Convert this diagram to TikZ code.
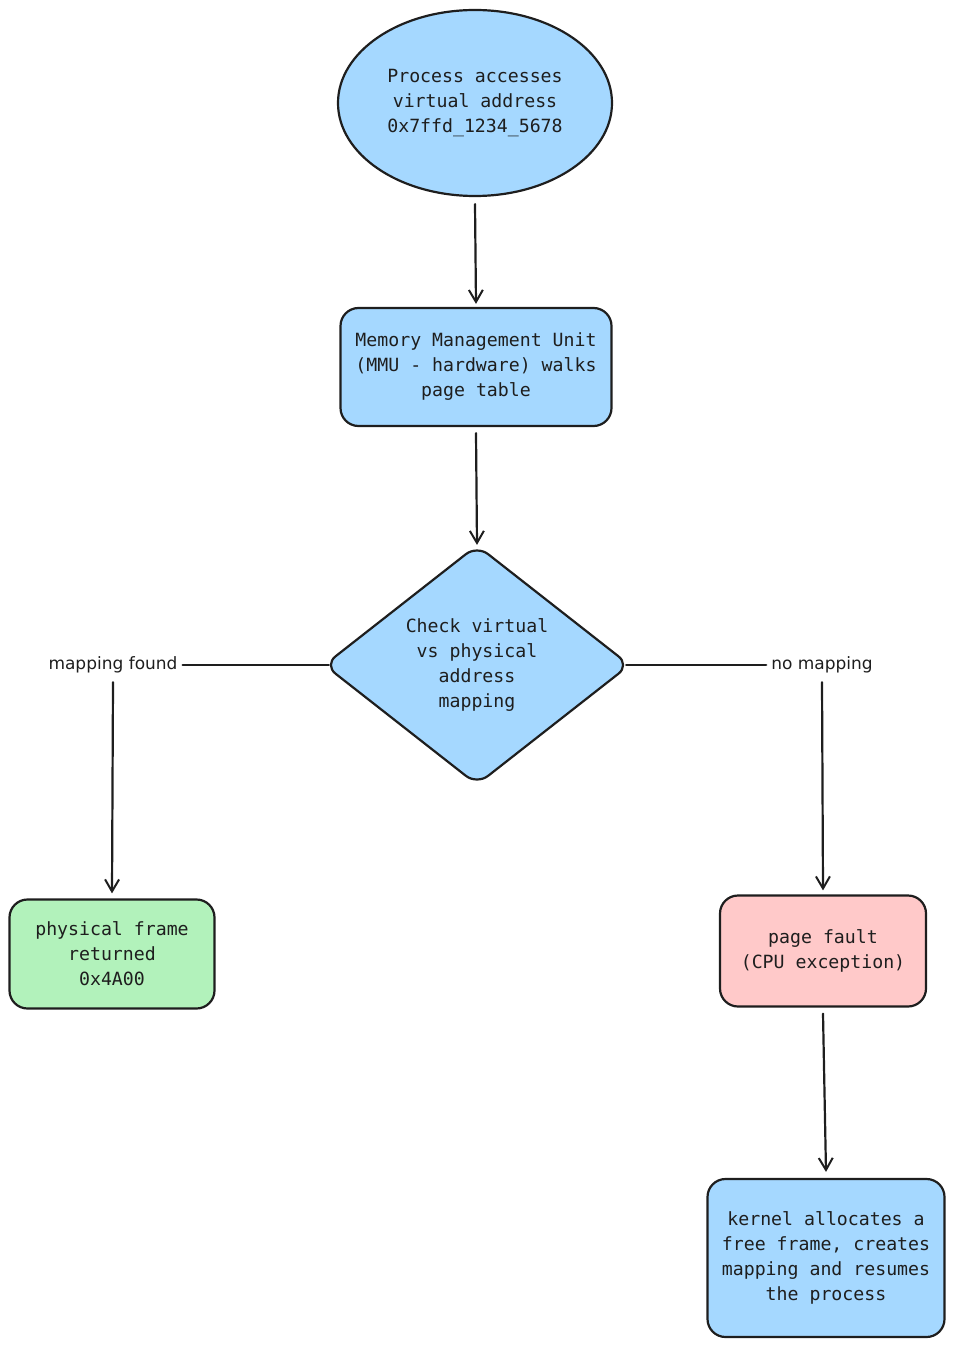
\documentclass[tikz,border=0pt]{standalone}
\usepackage{fontspec}
\setmonofont{DejaVu Sans Mono}
\newfontfamily\handfont{DejaVu Sans}
\usetikzlibrary{shapes.geometric,arrows.meta}

\definecolor{skyfill}{HTML}{A5D8FF}
\definecolor{mintfill}{HTML}{B2F2BB}
\definecolor{rosefill}{HTML}{FFC9C9}
\definecolor{inkline}{HTML}{1E1E1E}

\tikzset{every picture/.style={line width=2.2pt}}
\tikzset{
  boxtxt/.style={font=\ttfamily\fontsize{18.2}{25}\selectfont, align=center, text=inkline},
  stepbox/.style={boxtxt, draw=inkline, rounded corners=18pt, inner sep=0pt},
  edgelbl/.style={font=\handfont\fontsize{17}{20}\selectfont, text=inkline, inner sep=4pt},
  flowline/.style={draw=inkline, line cap=round},
  flowarrow/.style={flowline, -{Straight Barb[length=12pt,width=14pt,line width=2pt]}}
}

\begin{document}
\begin{tikzpicture}[x=1pt,y=1pt,yscale=-1]
  \useasboundingbox (0,0) rectangle (955,1348);

  %Shape: Ellipse [start]
  \node (start) [ellipse, boxtxt, draw=inkline, fill=skyfill, minimum width=274pt, minimum height=186pt, inner sep=0pt] at (475,103) {Process accesses\\virtual address\\0x7ffd\_1234\_5678};
  %Shape: Rectangle [mmu]
  \node (mmu) [stepbox, fill=skyfill, minimum width=271pt, minimum height=118pt] at (476,367) {Memory Management Unit\\(MMU - hardware) walks\\page table};
  %Shape: Diamond [check]
  \node (check) [diamond, boxtxt, draw=inkline, fill=skyfill, rounded corners=14pt, aspect=1.28, minimum width=306pt, minimum height=240pt, inner sep=0pt] at (477,665) {Check virtual\\vs physical\\address\\mapping};
  %Shape: Rectangle [frame]
  \node (frame) [stepbox, fill=mintfill, minimum width=205pt, minimum height=109pt] at (112,954) {physical frame\\returned\\0x4A00};
  %Shape: Rectangle [fault]
  \node (fault) [stepbox, fill=rosefill, minimum width=206pt, minimum height=111pt] at (823,951) {page fault\\(CPU exception)};
  %Shape: Rectangle [kernel]
  \node (kernel) [stepbox, fill=skyfill, minimum width=237pt, minimum height=158pt] at (826,1258) {kernel allocates a\\free frame, creates\\mapping and resumes\\the process};

  % Text Node
  \node (found) [edgelbl] at (113,665) {mapping found};
  % Text Node
  \node (nomap) [edgelbl] at (822,665) {no mapping};

  %Straight Lines
  \draw [flowarrow] ([yshift=7pt]start.south) -- ([yshift=-3pt]mmu.north);
  \draw [flowarrow] ([yshift=6pt]mmu.south) -- ([yshift=1pt]check.north);
  \draw [flowline] ([xshift=6pt]check.west) -- (found.east);
  \draw [flowarrow] ([yshift=4pt]found.south) -- ([yshift=-5pt]frame.north);
  \draw [flowline] ([xshift=-5pt]check.east) -- (nomap.west);
  \draw [flowarrow] ([yshift=4pt]nomap.south) -- ([yshift=-4pt]fault.north);
  \draw [flowarrow] ([yshift=6pt]fault.south) -- ([yshift=-6pt]kernel.north);

\end{tikzpicture}
\end{document}
